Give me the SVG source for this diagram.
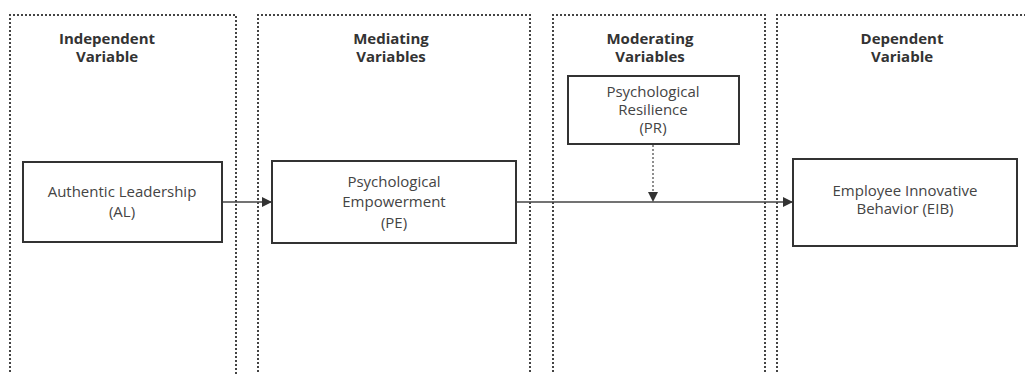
<svg xmlns="http://www.w3.org/2000/svg" width="1025" height="374" viewBox="0 0 1025 374">
<style>
.col{fill:none;stroke:#444;stroke-width:2;stroke-dasharray:2 2}
.box{fill:#fff;stroke:#333;stroke-width:2}
.hd{font-family:"Open Sans","Noto Sans",sans-serif;font-weight:bold;font-size:15px;fill:#333;text-anchor:middle}
.tx{font-family:"Open Sans","Noto Sans",sans-serif;font-size:15px;fill:#444;text-anchor:middle}
.ln{fill:none;stroke:#444;stroke-width:1.3}
.dl{fill:none;stroke:#444;stroke-width:1.2;stroke-dasharray:2 2}
</style>
<defs>
<marker id="ah" markerWidth="10" markerHeight="10" refX="9" refY="5" orient="auto" markerUnits="userSpaceOnUse">
<path d="M0,0 L10,5 L0,10 Z" fill="#333"/>
</marker>
</defs>
<rect width="1025" height="374" fill="#fff"/>
<g id="columns">
<path class="col" d="M10,380 V15 H236 V380"/>
<path class="col" d="M258,380 V15 H530 V380"/>
<path class="col" d="M553,380 V15 H765 V380"/>
<path class="col" d="M777,380 V15 H1030"/>
</g>
<g id="headers">
<text class="hd" x="107" y="44">Independent</text>
<text class="hd" x="107" y="62">Variable</text>
<text class="hd" x="391" y="44">Mediating</text>
<text class="hd" x="391" y="62">Variables</text>
<text class="hd" x="650" y="44">Moderating</text>
<text class="hd" x="650" y="62">Variables</text>
<text class="hd" x="902" y="44">Dependent</text>
<text class="hd" x="902" y="62">Variable</text>
</g>
<g id="connectors">
<path class="ln" d="M222,202 H271" marker-end="url(#ah)"/>
<path class="ln" d="M516,202 H792" marker-end="url(#ah)"/>
<path class="dl" d="M653,145 V201" marker-end="url(#ah)"/>
</g>
<g id="node-al">
<rect class="box" x="23" y="162" width="199" height="80"/>
<text class="tx" x="122" y="197">Authentic Leadership</text>
<text class="tx" x="122" y="217">(AL)</text>
</g>
<g id="node-pe">
<rect class="box" x="272" y="161" width="244" height="82"/>
<text class="tx" x="394" y="187">Psychological</text>
<text class="tx" x="394" y="207">Empowerment</text>
<text class="tx" x="394" y="228">(PE)</text>
</g>
<g id="node-pr">
<rect class="box" x="568" y="76" width="171" height="68"/>
<text class="tx" x="653" y="97">Psychological</text>
<text class="tx" x="653" y="115">Resilience</text>
<text class="tx" x="653" y="133">(PR)</text>
</g>
<g id="node-eib">
<rect class="box" x="793" y="159" width="224" height="87"/>
<text class="tx" x="905" y="196">Employee Innovative</text>
<text class="tx" x="905" y="214">Behavior (EIB)</text>
</g>
</svg>
